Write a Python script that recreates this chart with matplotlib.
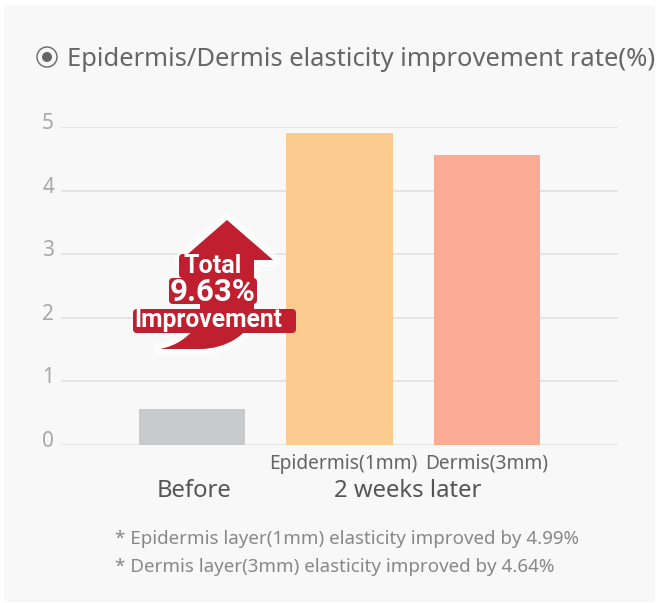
import matplotlib
matplotlib.use('Agg')
from matplotlib import pyplot as plt
from matplotlib.patches import Rectangle, Circle, PathPatch, FancyBboxPatch
from matplotlib.path import Path
from matplotlib.transforms import Affine2D, ScaledTranslation

plt.rcParams['font.family'] = ['Noto Sans', 'DejaVu Sans']

categories = ['', 'Epidermis(1mm)', 'Dermis(3mm)']
values = [0.57, 4.90, 4.56]
bar_colors = ['#c9cacc', '#fbcb8f', '#fbab93']
y_ticks = [0, 1, 2, 3, 4, 5]
title = 'Epidermis/Dermis elasticity improvement rate(%)'
notes = ['* Epidermis layer(1mm) elasticity improved by 4.99%',
         '* Dermis layer(3mm) elasticity improved by 4.64%']

W, H = 659, 603
fig = plt.figure(figsize=(W / 100, H / 100), dpi=100, facecolor='white')
# pixel coords, origin top left like the reference
px = Affine2D().scale(1, -1).translate(0, H)

fig.add_artist(Rectangle((4, 5), 651, 597, transform=px, facecolor='#f8f8f8', edgecolor='none', zorder=-1))

ax = fig.add_axes([61 / W, (H - 445) / H, 557 / W, 318 / H])
ax.patch.set_alpha(0)
ax.bar(range(3), values, width=0.72, color=bar_colors, zorder=3)
ax.set_xlim(-0.888, 2.888)
ax.set_ylim(0, 5)
ax.set_yticks(y_ticks)
ax.set_xticks(range(3))
ax.set_xticklabels(categories, fontsize=13.8, color='#666666')
ax.tick_params(length=0)
ax.tick_params(axis='x', pad=6)
ax.tick_params(axis='y', pad=5, labelsize=15, labelcolor='#a8a8a8')
ax.grid(axis='y', color='#e0e0e0', lw=1.2, zorder=0)
for s in ax.spines.values():
    s.set_visible(False)
# numbers sit a bit above their grid line
shift = ScaledTranslation(0, 6 / 100, fig.dpi_scale_trans)
for lab in ax.get_yticklabels():
    lab.set_transform(lab.get_transform() + shift)
# first x label sits a little right of its bar
xlab = ax.get_xticklabels()[1]
xlab.set_transform(xlab.get_transform() + ScaledTranslation(4 / 100, -1 / 100, fig.dpi_scale_trans))

# title with the radio icon
fig.add_artist(Circle((47, 57), 10, transform=px, facecolor='none', edgecolor='#666666', lw=1))
fig.add_artist(Circle((47, 57), 5, transform=px, facecolor='#666666', edgecolor='none'))
fig.text(67, 59, title, transform=px, fontsize=18.4, color='#666666', va='center', ha='left')

fig.text(194, 491, 'Before', transform=px, fontsize=17.2, color='#555555', va='center', ha='center')
fig.text(408, 491, '2 weeks later', transform=px, fontsize=17.2, color='#555555', va='center', ha='center')
fig.text(115, 539, notes[0], transform=px, fontsize=13.5, color='#888888', va='center', ha='left')
fig.text(115, 567, notes[1], transform=px, fontsize=13.5, color='#888888', va='center', ha='left')

# red arrow badge
verts = [(227, 220), (273, 260), (254, 260), (254, 310),
         (252, 335), (225, 349), (200, 349), (160, 349),
         (175, 346), (190, 338), (200, 320), (200, 260), (181, 260), (227, 220)]
codes = [Path.MOVETO, Path.LINETO, Path.LINETO, Path.LINETO,
         Path.CURVE4, Path.CURVE4, Path.CURVE4, Path.LINETO,
         Path.CURVE4, Path.CURVE4, Path.CURVE4, Path.LINETO, Path.LINETO, Path.CLOSEPOLY]
red = '#bf1f2e'
glow = PathPatch(Path(verts, codes), transform=px, facecolor='none', edgecolor='white', lw=10, alpha=0.6,
                 joinstyle='round', zorder=4)
fig.add_artist(glow)
arrow = PathPatch(Path(verts, codes), transform=px, facecolor=red, edgecolor='none', zorder=5)
fig.add_artist(arrow)
for x0, y0, w, h in [(179, 254, 67, 24), (169, 278, 88, 26), (133, 309, 163, 24)]:
    fig.add_artist(FancyBboxPatch((x0 + 4, y0 + 4), w - 8, h - 8, boxstyle='round,pad=4', transform=px,
                                  facecolor=red, edgecolor='none', zorder=6))
for txt, x, y, fs in [('Total', 213, 266, 18), ('9.63%', 213, 292, 22.5), ('Improvement', 208, 320, 17.7)]:
    fig.text(x, y, txt, transform=px, fontsize=fs, fontweight='bold', color='white', va='center', ha='center',
             family=['Roboto', 'DejaVu Sans'], zorder=7)

fig.savefig('out.png', dpi=100)
